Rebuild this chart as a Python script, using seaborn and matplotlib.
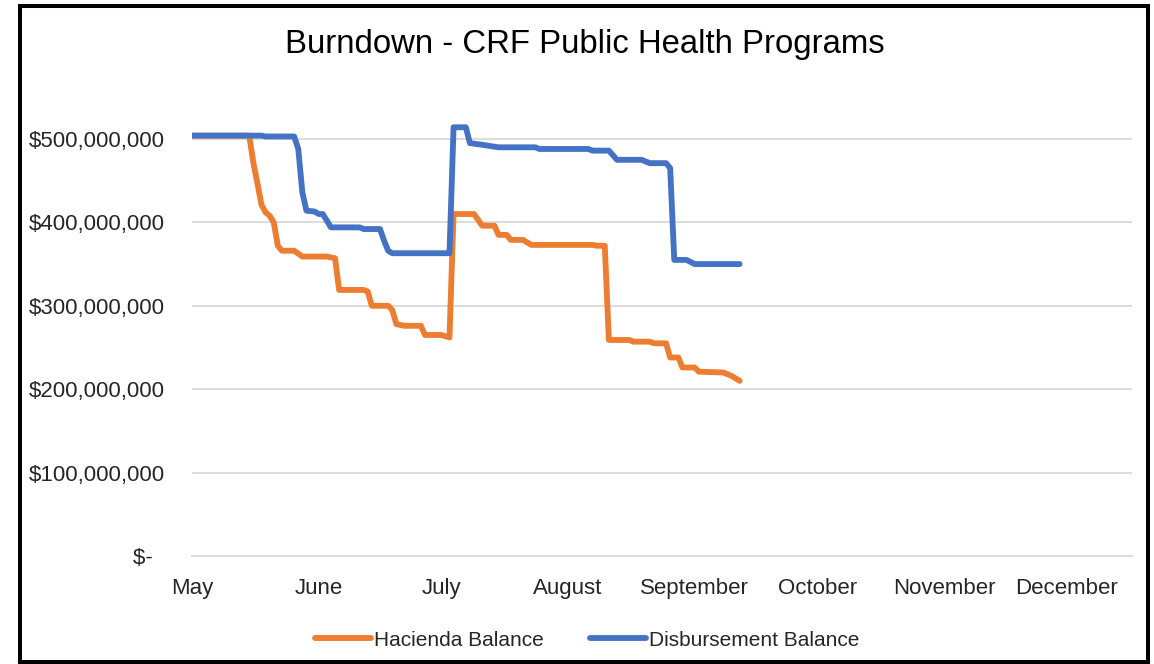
import matplotlib
matplotlib.use("Agg")
import matplotlib.pyplot as plt
import matplotlib.dates as mdates
from matplotlib.patches import Rectangle
from matplotlib.ticker import FuncFormatter, MultipleLocator
from matplotlib.lines import Line2D
import seaborn as sns
import pandas as pd

# ---------------- data ----------------
title = "Burndown - CRF Public Health Programs"
series_names = ["Hacienda Balance", "Disbursement Balance"]
series_colors = ["#ED7D31", "#4472C4"]

hacienda_dates = [
    "2020-05-01", "2020-05-15", "2020-05-16", "2020-05-17", "2020-05-18", "2020-05-19",
    "2020-05-20", "2020-05-21", "2020-05-22", "2020-05-23", "2020-05-26", "2020-05-28",
    "2020-06-03", "2020-06-05", "2020-06-06", "2020-06-12", "2020-06-13", "2020-06-14",
    "2020-06-18", "2020-06-19", "2020-06-20", "2020-06-22", "2020-06-26", "2020-06-27",
    "2020-07-01", "2020-07-03", "2020-07-04", "2020-07-09", "2020-07-11", "2020-07-14",
    "2020-07-15", "2020-07-17", "2020-07-18", "2020-07-21", "2020-07-23", "2020-08-07",
    "2020-08-08", "2020-08-10", "2020-08-11", "2020-08-16", "2020-08-17", "2020-08-21",
    "2020-08-22", "2020-08-25", "2020-08-26", "2020-08-28", "2020-08-29", "2020-09-01",
    "2020-09-02", "2020-09-08", "2020-09-10", "2020-09-12",
]
hacienda_values_m = [
    504, 504, 472, 447, 421, 412,
    408, 400, 372, 366, 366, 359,
    359, 357, 319, 319, 317, 300,
    300, 295, 278, 276, 276, 265,
    265, 262, 410, 410, 396, 396,
    385, 385, 379, 379, 373, 373,
    372, 372, 259, 259, 257, 257,
    255, 255, 238, 238, 226, 226,
    221, 220, 216, 210,
]

disbursement_dates = [
    "2020-05-01", "2020-05-18", "2020-05-19", "2020-05-26", "2020-05-27", "2020-05-28",
    "2020-05-29", "2020-05-31", "2020-06-01", "2020-06-02", "2020-06-04", "2020-06-11",
    "2020-06-12", "2020-06-16", "2020-06-17", "2020-06-18", "2020-06-19", "2020-07-03",
    "2020-07-04", "2020-07-07", "2020-07-08", "2020-07-11", "2020-07-15", "2020-07-24",
    "2020-07-25", "2020-08-06", "2020-08-07", "2020-08-11", "2020-08-13", "2020-08-19",
    "2020-08-21", "2020-08-25", "2020-08-26", "2020-08-27", "2020-08-30", "2020-09-01",
    "2020-09-12",
]
disbursement_values_m = [
    504, 504, 503, 503, 488, 436,
    414, 413, 410, 410, 394, 394,
    392, 392, 378, 366, 363, 363,
    514, 514, 495, 493, 490, 490,
    488, 488, 486, 486, 475, 475,
    471, 471, 465, 355, 355, 350,
    350,
]

month_labels = ["May", "June", "July", "August", "September", "October", "November", "December"]
x_start, x_end = "2020-05-01", "2020-12-17"
y_max = 540e6
y_step = 100e6

# ---------------- frames ----------------
df_h = pd.DataFrame({"date": pd.to_datetime(hacienda_dates),
                     "value": [v * 1e6 for v in hacienda_values_m]})
df_d = pd.DataFrame({"date": pd.to_datetime(disbursement_dates),
                     "value": [v * 1e6 for v in disbursement_values_m]})

# ---------------- style ----------------
sns.set_style("white")
plt.rcParams["font.family"] = ["Liberation Sans", "DejaVu Sans"]

W, H = 1154, 664
fig = plt.figure(figsize=(W / 100, H / 100), dpi=100)
ax = fig.add_axes([192 / W, 1 - 556 / H, (1132 - 192) / W, (556 - 105.6) / H])

line_kw = dict(linewidth=4.2, solid_capstyle="round", solid_joinstyle="round",
               estimator=None, sort=False)
sns.lineplot(data=df_h, x="date", y="value", color=series_colors[0], ax=ax, **line_kw)
sns.lineplot(data=df_d, x="date", y="value", color=series_colors[1], ax=ax, **line_kw)

ax.set_xlim(pd.Timestamp(x_start), pd.Timestamp(x_end))
ax.set_ylim(0, y_max)
ax.set_xlabel("")
ax.set_ylabel("")

# y axis
ax.yaxis.set_major_locator(MultipleLocator(y_step))
ax.yaxis.set_major_formatter(FuncFormatter(lambda v, p: "$-  " if v == 0 else f"${v:,.0f}"))
ax.yaxis.grid(True, color="#D9D9D9", linewidth=1.3)
ax.xaxis.grid(False)
ax.set_axisbelow(True)
ax.tick_params(axis="y", length=0, pad=19.5, labelsize=16, labelcolor="#262626")

# x axis
ax.xaxis.set_major_locator(mdates.MonthLocator())
ax.xaxis.set_major_formatter(FuncFormatter(
    lambda v, p: month_labels[mdates.num2date(v).month - 5]
    if 0 <= mdates.num2date(v).month - 5 < len(month_labels) else ""))
ax.tick_params(axis="x", length=5, width=1, color="#BFBFBF", pad=10.5,
               labelsize=16, labelcolor="#262626", direction="out")

for s in ["top", "right", "left"]:
    ax.spines[s].set_visible(False)
ax.spines["bottom"].set_color("#D9D9D9")
ax.spines["bottom"].set_linewidth(1.3)

# title
fig.text(585 / W, 1 - 44 / H, title, ha="center", va="center", fontsize=23.7, color="#000000")

# legend
handles = [Line2D([0], [0], color=c, linewidth=4.2, solid_capstyle="round") for c in series_colors]
fig.legend(handles, series_names, loc="center", bbox_to_anchor=(587 / W, 1 - 640 / H),
           ncol=2, frameon=False, fontsize=15, handlelength=2.7, handletextpad=0.15,
           columnspacing=2.2, labelcolor="#262626")

# outer border
border = Rectangle((20 / W, 1 - 661.5 / H), (1147.5 - 20) / W, (661.5 - 6) / H,
                   transform=fig.transFigure, fill=False, edgecolor="black",
                   linewidth=2.9, zorder=10)
fig.patches.append(border)

fig.savefig("out.png", dpi=100)
